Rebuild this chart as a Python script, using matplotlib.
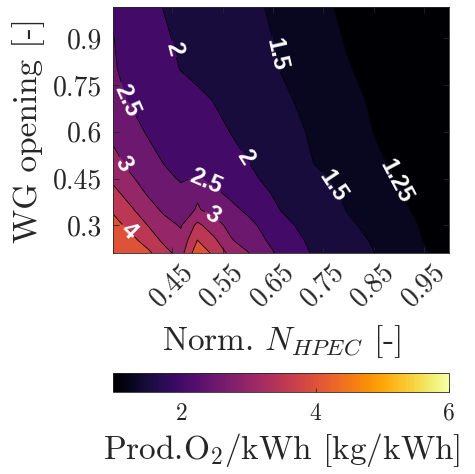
import numpy as np
import matplotlib
matplotlib.use("Agg")
import matplotlib.pyplot as plt
from matplotlib import colors, cm
from matplotlib.transforms import ScaledTranslation

plt.rcParams['font.family'] = 'serif'
plt.rcParams['font.serif'] = ['cmr10']
plt.rcParams['mathtext.fontset'] = 'cm'
plt.rcParams['axes.unicode_minus'] = False
plt.rcParams['axes.formatter.use_mathtext'] = True

# grid
n_hpec = [0.333, 0.367, 0.4, 0.433, 0.467, 0.5, 0.533, 0.567, 0.6,
          0.667, 0.733, 0.8, 0.867, 0.933, 1.0]
wg_open = [0.211, 0.25, 0.3, 0.35, 0.4, 0.45, 0.5, 0.6, 0.7, 0.8, 0.9, 1.0]
prod_o2 = [
    [4.50, 4.35, 4.13, 3.69, 3.30, 4.34, 3.90, 3.33, 3.03, 2.37, 1.94, 1.68, 1.45, 1.29, 1.20],
    [4.40, 4.18, 3.81, 3.42, 3.15, 4.02, 3.61, 3.05, 2.78, 2.27, 1.88, 1.62, 1.42, 1.27, 1.17],
    [4.19, 3.85, 3.51, 3.18, 2.96, 3.62, 3.22, 2.83, 2.64, 2.13, 1.80, 1.54, 1.39, 1.26, 1.14],
    [3.92, 3.58, 3.22, 2.92, 2.79, 3.04, 2.85, 2.62, 2.41, 1.98, 1.72, 1.48, 1.35, 1.23, 1.12],
    [3.66, 3.31, 2.98, 2.77, 2.61, 2.95, 2.61, 2.41, 2.23, 1.90, 1.63, 1.44, 1.32, 1.21, 1.10],
    [3.39, 3.06, 2.83, 2.61, 2.46, 2.53, 2.38, 2.23, 2.09, 1.82, 1.56, 1.41, 1.29, 1.18, 1.08],
    [3.15, 2.89, 2.68, 2.49, 2.39, 2.30, 2.20, 2.10, 2.01, 1.74, 1.49, 1.38, 1.26, 1.17, 1.07],
    [2.88, 2.66, 2.47, 2.38, 2.28, 2.19, 2.09, 1.99, 1.87, 1.63, 1.45, 1.33, 1.22, 1.14, 1.05],
    [2.60, 2.47, 2.37, 2.28, 2.18, 2.09, 1.99, 1.88, 1.77, 1.55, 1.41, 1.30, 1.20, 1.12, 1.03],
    [2.535, 2.39, 2.26, 2.12, 1.99, 1.90, 1.82, 1.74, 1.65, 1.49, 1.38, 1.26, 1.18, 1.09, 1.01],
    [2.51, 2.34, 2.20, 2.05, 1.94, 1.86, 1.78, 1.69, 1.61, 1.46, 1.34, 1.23, 1.15, 1.07, 0.99],
    [2.46, 2.28, 2.13, 1.99, 1.90, 1.82, 1.74, 1.65, 1.57, 1.43, 1.30, 1.21, 1.13, 1.05, 0.97],
]

levels = [1.25, 1.5, 2, 2.5, 3, 3.5, 4]
clim = (0.97, 6)
xticks = [0.45, 0.55, 0.65, 0.75, 0.85, 0.95]
yticks = [0.3, 0.45, 0.6, 0.75, 0.9]
cbticks = [2, 4, 6]

# where the inline labels sit, per level
label_spots = {
    1.25: [(0.896, 0.444)],
    1.5: [(0.649, 0.846), (0.772, 0.428)],
    2: [(0.440, 0.86), (0.583, 0.505)],
    2.5: [(0.356, 0.70), (0.517, 0.444)],
    3: [(0.350, 0.492), (0.529, 0.326)],
    4: [(0.364, 0.285)],
}

X, Y = np.meshgrid(n_hpec, wg_open)
Z = np.array(prod_o2)

cmap = plt.get_cmap('inferno')
norm = colors.Normalize(*clim)
fill_colors = [cmap(norm(v)) for v in [clim[0]] + levels]

fig = plt.figure(figsize=(4.75, 4.74), dpi=100)
ax = fig.add_axes([0.2385, 0.4662, 0.7074, 0.519])

ax.contourf(X, Y, Z, levels=[0.9] + levels + [5.5], colors=fill_colors)

for lev in levels:
    cs = ax.contour(X, Y, Z, levels=[lev], colors='k', linewidths=0.6)
    if lev in label_spots:
        with plt.rc_context({'font.family': 'Liberation Sans', 'font.weight': 'bold'}):
            ax.clabel(cs, manual=label_spots[lev], inline=True,
                      inline_spacing=2, fontsize=17, colors='w',
                      fmt=lambda v: f'{v:g}')

ax.set_xlim(n_hpec[0], n_hpec[-1])
ax.set_ylim(wg_open[0], wg_open[-1])
ax.set_xticks(xticks)
ax.set_xticklabels([f'{t:g}' for t in xticks], rotation=45, ha='right',
                   va='center', rotation_mode='anchor')
ax.set_yticks(yticks)
ax.set_yticklabels([f'{t:g}' for t in yticks])
ax.tick_params(direction='in', top=True, right=True, length=4, width=0.6,
               labelsize=20, color='#262626', labelcolor='#262626', pad=8)
# MATLAB puts the rotated labels a bit to the right of the tick
shift = ScaledTranslation(0.17, -0.04, fig.dpi_scale_trans)
for lbl in ax.get_xticklabels():
    lbl.set_transform(lbl.get_transform() + shift)
for s in ax.spines.values():
    s.set_color('#262626')
    s.set_linewidth(0.6)
ax.set_xlabel(r'Norm. $N_{HPEC}$ [-]', fontsize=24, color='#262626', labelpad=8)
ax.set_ylabel('WG opening [-]', fontsize=24, color='#262626', labelpad=6)

cax = fig.add_axes([0.2385, 0.1736, 0.7074, 0.0388])
sm = cm.ScalarMappable(norm=norm, cmap=cmap)
cb = fig.colorbar(sm, cax=cax, orientation='horizontal', ticks=cbticks)
cb.outline.set_edgecolor('#262626')
cb.outline.set_linewidth(0.6)
cax.tick_params(direction='in', length=3, width=0.6, labelsize=17,
                color='#262626', labelcolor='#262626', pad=8)
cax.set_xticklabels([f'{t:g}' for t in cbticks])
cb.set_label(r'Prod.O$_2$/kWh [kg/kWh]', fontsize=24, color='#262626', labelpad=4)

fig.savefig('out.png', dpi=100)
